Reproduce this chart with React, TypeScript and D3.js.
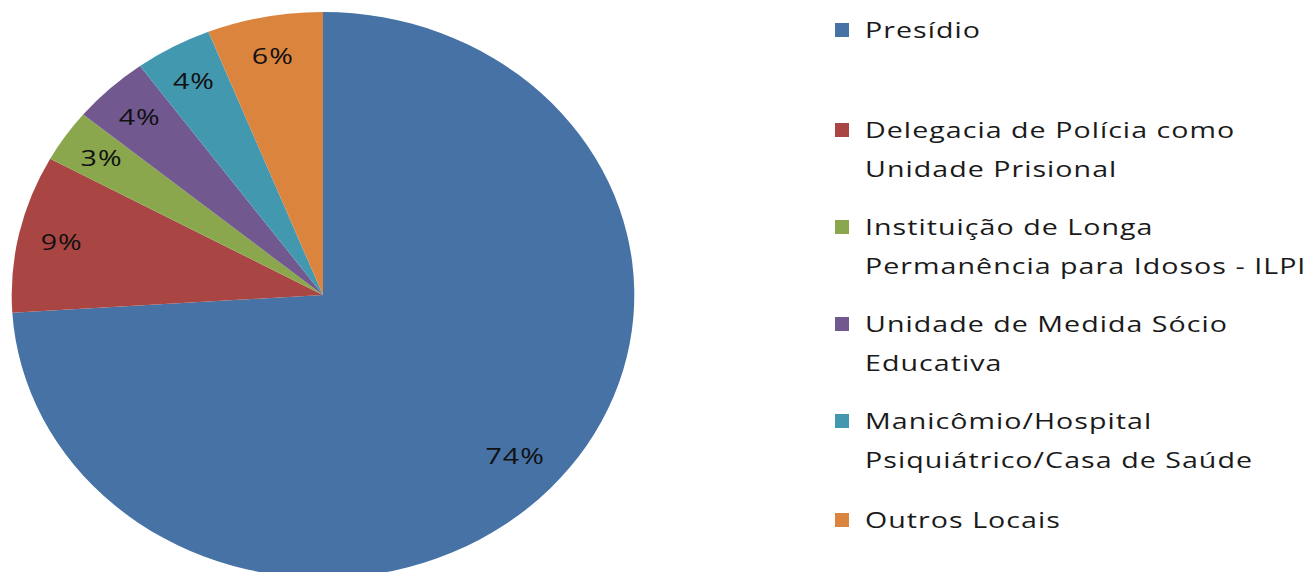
// Pie chart — locais de privação de liberdade, D3 pie + arc, legenda à direita
import React, { useEffect, useRef } from 'react';
import * as d3 from 'd3';

const categories = [
  'Presídio',
  'Delegacia de Polícia como Unidade Prisional',
  'Instituição de Longa Permanência para Idosos - ILPI',
  'Unidade de Medida Sócio Educativa',
  'Manicômio/Hospital Psiquiátrico/Casa de Saúde',
  'Outros Locais',
];
const values = [74, 9, 3, 4, 4, 6];
const legendLines = [
  ['Presídio'],
  ['Delegacia de Polícia como', 'Unidade Prisional'],
  ['Instituição de Longa', 'Permanência para Idosos - ILPI'],
  ['Unidade de Medida Sócio', 'Educativa'],
  ['Manicômio/Hospital', 'Psiquiátrico/Casa de Saúde'],
  ['Outros Locais'],
];
const colors = ['#4672A6', '#A94643', '#8AA74E', '#71588F', '#4298AF', '#DB843D'];

const W = 1309;
const H = 572;

const App: React.FC = () => {
  const svgRef = useRef<SVGSVGElement>(null);

  useEffect(() => {
    if (!svgRef.current) return;
    const svg = d3.select(svgRef.current);
    svg.selectAll('*').remove();

    const cx = 323;
    const cy = 295;
    const r = 283;
    const sx = 1.1; // картинка растянута по горизонтали
    const tsx = 1.3; // растяжение текста

    const data = categories.map((c, i) => ({ name: c, value: values[i], color: colors[i] }));
    const pie = d3.pie<typeof data[0]>().value((d) => d.value).sort(null);
    const arcs = pie(data);
    const arc = d3.arc<d3.PieArcDatum<typeof data[0]>>().innerRadius(0).outerRadius(r);

    const g = svg.append('g').attr('transform', `translate(${cx},${cy}) scale(${sx},1)`);
    g.selectAll('path')
      .data(arcs)
      .enter()
      .append('path')
      .attr('d', arc)
      .attr('fill', (d) => d.data.color);

    // подписи процентов
    const labelArc = d3.arc<d3.PieArcDatum<typeof data[0]>>().innerRadius(r * 0.86).outerRadius(r * 0.86);
    svg.append('g')
      .selectAll('text')
      .data(arcs)
      .enter()
      .append('text')
      .attr('transform', (d) => {
        const [x, y] = labelArc.centroid(d);
        return `translate(${cx + x * sx - (d.index === 0 ? 3 : 0)},${cy + y - (d.index === 0 ? 5 : 0)}) scale(${tsx},1)`;
      })
      .attr('dy', '0.35em')
      .attr('text-anchor', 'middle')
      .attr('font-family', 'Open Sans, sans-serif')
      .attr('font-size', 22)
      .attr('letter-spacing', 0.8)
      .attr('fill', '#111')
      .text((d) => `${d.data.value}%`);

    // легенда
    const rowY = [30, 130, 227, 324, 421, 520];
    const lg = svg.append('g');
    legendLines.forEach((lines, i) => {
      lg.append('rect')
        .attr('x', 835)
        .attr('y', rowY[i] - 7)
        .attr('width', 14)
        .attr('height', 14)
        .attr('fill', colors[i]);
      lines.forEach((ln, j) => {
        lg.append('text')
          .attr('transform', `translate(865,${rowY[i] + j * 39}) scale(${tsx},1)`)
          .attr('dy', '0.35em')
          .attr('font-family', 'Open Sans, sans-serif')
          .attr('font-size', 22)
          .attr('letter-spacing', 0.8)
          .attr('fill', '#1a1a1a')
          .text(ln);
      });
    });
  }, []);

  return (
    <svg
      ref={svgRef}
      width={W}
      height={H}
      style={{ position: 'absolute', left: 0, top: 0, background: '#fff' }}
    />
  );
};

export default App;
